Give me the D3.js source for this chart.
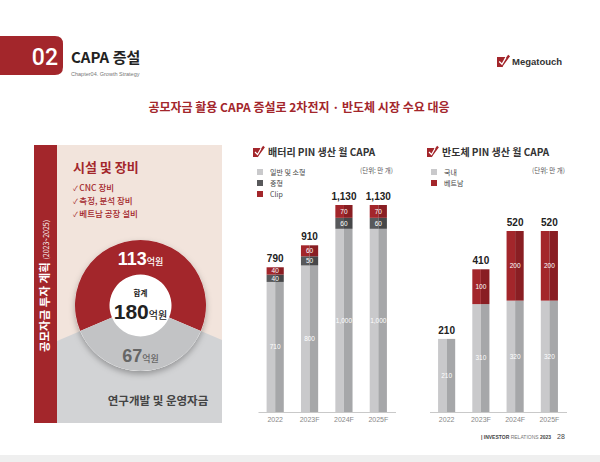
<!DOCTYPE html>
<html>
<head>
<meta charset="utf-8">
<title>CAPA 증설</title>
<script src="https://cdn.jsdelivr.net/npm/d3@7"></script>
<style>
  html, body { margin: 0; padding: 0; background: #fff; }
  svg { display: block; font-family: "Liberation Sans", "Noto Sans CJK KR", sans-serif; }
</style>
</head>
<body>
<div id="chart"></div>
<script>
// fund allocation (억원)
var fundLabels = ['시설 및 장비', '연구개발 및 운영자금'];
var fundValues = [113, 67];
var facilityItems = ['CNC 장비', '측정, 분석 장비', '베트남 공장 설비'];

var years = ['2022', '2023F', '2024F', '2025F'];

// battery PIN monthly CAPA (만 개)
var batSeries = ['일반 및 소형', '중형', 'Clip'];
var batGeneral = [710, 800, 1000, 1000];
var batMid = [40, 50, 60, 60];
var batClip = [40, 60, 70, 70];

// semiconductor PIN monthly CAPA (만 개)
var semiSeries = ['국내', '베트남'];
var semiDomestic = [210, 310, 320, 320];
var semiVietnam = [0, 100, 200, 200];

var width = 600, height = 462;
var red = '#a3262b', redDark = '#891e23';
var kr = '"Noto Sans CJK KR", sans-serif';

var svg = d3.select('#chart').append('svg')
    .attr('width', width).attr('height', height);

var defs = svg.append('defs');
var shadow = defs.append('filter').attr('id', 'shadow')
    .attr('x', '-30%').attr('y', '-30%').attr('width', '160%').attr('height', '160%');
shadow.append('feDropShadow').attr('dx', 0).attr('dy', 3).attr('stdDeviation', 3)
    .attr('flood-color', '#000').attr('flood-opacity', 0.3);
defs.append('clipPath').attr('id', 'panelClip')
  .append('rect').attr('x', 57).attr('y', 145).attr('width', 165).attr('height', 278);

// ---------- header ----------
svg.append('path')
    .attr('d', 'M0,36 H55 Q63,36 63,44 V67 Q63,75 55,75 H0 Z')
    .attr('fill', red);
svg.append('text').attr('x', 58).attr('y', 65).attr('text-anchor', 'end')
    .attr('fill', '#fff').style('font-size', '23px').style('font-weight', 500)
    .style('font-family', 'Roboto, sans-serif')
    .text('02');
svg.append('text').attr('x', 71).attr('y', 63)
    .attr('fill', '#222').style('font-size', '15px').style('font-weight', 700)
    .style('font-family', kr)
    .text('CAPA 증설');
svg.append('text').attr('x', 71).attr('y', 76)
    .attr('fill', '#777').style('font-size', '5.5px')
    .text('Chapter04. Growth Strategy');

// logo
function checkIcon(g, x, y, s) {
  g.append('path')
      .attr('d', 'M' + x + ',' + (y + s * 0.1) + ' H' + (x + s * 0.75) + ' L' + (x + s * 0.5) + ',' + (y + s) +
           ' H' + x + ' Z')
      .attr('fill', red);
  g.append('path')
      .attr('d', 'M' + (x + s * 0.15) + ',' + (y + s * 0.5) +
           ' L' + (x + s * 0.45) + ',' + (y + s * 0.85) +
           ' L' + (x + s * 1.1) + ',' + (y - s * 0.05))
      .attr('fill', 'none').attr('stroke', red).attr('stroke-width', s * 0.22);
  g.append('path')
      .attr('d', 'M' + (x + s * 0.2) + ',' + (y + s * 0.5) +
           ' L' + (x + s * 0.45) + ',' + (y + s * 0.75) +
           ' L' + (x + s * 0.8) + ',' + (y + s * 0.15))
      .attr('fill', 'none').attr('stroke', '#fff').attr('stroke-width', s * 0.12);
}
checkIcon(svg, 497, 56, 11);
svg.append('text').attr('x', 512).attr('y', 65)
    .attr('fill', '#333').style('font-size', '9.5px').style('font-weight', 700)
    .text('Megatouch');

svg.append('text').attr('x', 299).attr('y', 112).attr('text-anchor', 'middle')
    .attr('fill', red).style('font-size', '12px').style('font-weight', 700)
    .style('font-family', kr)
    .text('공모자금 활용 CAPA 증설로 2차전지 · 반도체 시장 수요 대응');

// ---------- left panel: donut ----------
svg.append('rect').attr('x', 34).attr('y', 145).attr('width', 23).attr('height', 278).attr('fill', red);
svg.append('rect').attr('x', 57).attr('y', 145).attr('width', 165).attr('height', 278).attr('fill', '#f2e4dc');

var vt = svg.append('text')
    .attr('transform', 'translate(49,286) rotate(-90)')
    .attr('text-anchor', 'middle').attr('fill', '#fff').style('font-family', kr);
vt.append('tspan').style('font-size', '11.5px').style('font-weight', 700).text('공모자금 투자 계획 ');
vt.append('tspan').style('font-size', '7px').text('(2023~2025)');

var cx = 140.5, cy = 305.5;
var total = d3.sum(fundValues);
var greyAngle = fundValues[1] / total * 2 * Math.PI;
var start = Math.PI + greyAngle / 2;
var pie = d3.pie().sort(null).startAngle(start).endAngle(start + 2 * Math.PI);
var slices = pie(fundValues);

var bgArc = d3.arc().innerRadius(0).outerRadius(220);
svg.append('g').attr('clip-path', 'url(#panelClip)')
  .append('path')
    .attr('transform', 'translate(' + cx + ',' + cy + ')')
    .attr('d', bgArc(slices[1]))
    .attr('fill', '#d2d3d5');

var ringArc = d3.arc().innerRadius(31).outerRadius(65.5);
var donut = svg.append('g').attr('transform', 'translate(' + cx + ',' + cy + ')');
donut.append('circle').attr('r', 65.5).attr('fill', '#fff').attr('filter', 'url(#shadow)');
donut.selectAll('path.ring').data(slices).enter().append('path')
    .attr('class', 'ring')
    .attr('d', ringArc)
    .attr('fill', function(d, i) { return i === 0 ? red : '#c2c3c5'; });

function amount(g, x, y, v, big, small, color) {
  var t = g.append('text').attr('x', x).attr('y', y).attr('text-anchor', 'middle').attr('fill', color);
  t.append('tspan').style('font-size', big + 'px').style('font-weight', 700).text(v);
  t.append('tspan').style('font-size', small + 'px').style('font-weight', 500)
      .style('font-family', kr).text('억원');
}
amount(svg, cx, 265, fundValues[0], 18, 9, '#fff');
amount(svg, cx, 362, fundValues[1], 18, 9, '#666');
svg.append('text').attr('x', cx).attr('y', 296).attr('text-anchor', 'middle')
    .attr('fill', '#222').style('font-size', '7.5px').style('font-weight', 700)
    .style('font-family', kr).text('합계');
amount(svg, cx, 319, total, 21, 10, '#222');

svg.append('text').attr('x', 73).attr('y', 172)
    .attr('fill', red).style('font-size', '13px').style('font-weight', 700)
    .style('font-family', kr)
    .text(fundLabels[0]);
var items = svg.selectAll('text.item').data(facilityItems).enter().append('text')
    .attr('class', 'item')
    .attr('x', 73).attr('y', function(d, i) { return 191 + i * 13; })
    .attr('fill', red).style('font-family', kr);
items.append('tspan').style('font-size', '7px').text('✓ ');
items.append('tspan').style('font-size', '8.5px').style('font-weight', 500).text(function(d) { return d; });
svg.append('text').attr('x', 158).attr('y', 405).attr('text-anchor', 'middle')
    .attr('fill', '#444').style('font-size', '11.5px').style('font-weight', 700)
    .style('font-family', kr)
    .text(fundLabels[1]);

// ---------- stacked bar charts ----------
var baseY = 412;

function drawChart(opt) {
  var g = svg.append('g');
  checkIcon(g, opt.titleX - 15, 147, 10);
  g.append('text').attr('x', opt.titleX).attr('y', 156)
      .attr('fill', '#333').style('font-size', '10px').style('font-weight', 700)
      .style('font-family', kr)
      .text(opt.title);
  g.append('text').attr('x', opt.unitX).attr('y', 173).attr('text-anchor', 'end')
      .attr('fill', '#555').style('font-size', '6.5px').style('font-family', kr).text('(단위: 만 개)');

  var leg = g.selectAll('g.leg').data(opt.series).enter().append('g')
      .attr('transform', function(d, i) { return 'translate(' + opt.legX + ',' + (172 + i * 11) + ')'; });
  leg.append('rect').attr('x', 0).attr('y', -3).attr('width', 6).attr('height', 6)
      .attr('fill', function(d, i) { return opt.colors[i][0]; });
  leg.append('text').attr('x', 13).attr('y', 2.5)
      .attr('fill', '#444').style('font-size', '7px').style('font-family', kr)
      .text(function(d) { return d; });

  var x = d3.scaleBand().domain(years).range(opt.range).paddingInner(0.5).paddingOuter(0.25);
  var y = d3.scaleLinear().domain([0, opt.max]).range([baseY, opt.top]);

  var rows = years.map(function(yr, i) {
    var o = { year: yr };
    opt.keys.forEach(function(k, j) { o[k] = opt.values[j][i]; });
    return o;
  });
  var stacked = d3.stack().keys(opt.keys)(rows);
  var bw = x.bandwidth();

  var layer = g.selectAll('g.layer').data(stacked).enter().append('g').attr('class', 'layer');
  layer.each(function(s, si) {
    var sel = d3.select(this).selectAll('g.seg').data(s.filter(function(d) { return d[1] > d[0]; }))
        .enter().append('g');
    sel.append('rect')
        .attr('x', function(d) { return x(d.data.year); })
        .attr('y', function(d) { return y(d[1]); })
        .attr('width', bw / 2)
        .attr('height', function(d) { return y(d[0]) - y(d[1]); })
        .attr('fill', opt.colors[si][0]);
    sel.append('rect')
        .attr('x', function(d) { return x(d.data.year) + bw / 2; })
        .attr('y', function(d) { return y(d[1]); })
        .attr('width', bw / 2)
        .attr('height', function(d) { return y(d[0]) - y(d[1]); })
        .attr('fill', opt.colors[si][1]);
    sel.append('text')
        .attr('x', function(d) { return x(d.data.year) + bw / 2; })
        .attr('y', function(d) { return (y(d[0]) + y(d[1])) / 2 + 2.3; })
        .attr('text-anchor', 'middle').attr('fill', '#fff')
        .style('font-size', '6.5px')
        .text(function(d) { return d3.format(',')(d[1] - d[0]); });
  });

  var totals = rows.map(function(r) { return d3.sum(opt.keys, function(k) { return r[k]; }); });
  g.selectAll('text.total').data(years).enter().append('text')
      .attr('x', function(d) { return x(d) + bw / 2; })
      .attr('y', function(d, i) { return y(totals[i]) - 5; })
      .attr('text-anchor', 'middle').attr('fill', '#222')
      .style('font-size', '10px').style('font-weight', 700)
      .text(function(d, i) { return d3.format(',')(totals[i]); });

  var axis = g.append('g').attr('transform', 'translate(0,' + baseY + ')')
      .call(d3.axisBottom(x).tickSize(0).tickPadding(5));
  axis.select('.domain').attr('stroke', '#bbb').attr('stroke-width', 0.8);
  axis.selectAll('text').attr('fill', '#888').style('font-size', '7px')
      .style('font-family', '"Liberation Sans", sans-serif');
}

var greyC = ['#c9c9cb', '#a6a7a9'];
drawChart({
  title: '배터리 PIN 생산 월 CAPA', titleX: 268, unitX: 393, legX: 257,
  series: batSeries, keys: ['general', 'mid', 'clip'],
  values: [batGeneral, batMid, batClip],
  colors: [greyC, ['#58595b', '#464749'], [red, redDark]],
  range: [258, 395.5], max: 1130, top: 205
});
drawChart({
  title: '반도체 PIN 생산 월 CAPA', titleX: 442, unitX: 565, legX: 431,
  series: semiSeries, keys: ['domestic', 'vietnam'],
  values: [semiDomestic, semiVietnam],
  colors: [greyC, [red, redDark]],
  range: [429.5, 566.5], max: 520, top: 231
});

// ---------- footer ----------
var ft = svg.append('text').attr('x', 481).attr('y', 439).attr('fill', '#444').style('font-size', '5px');
ft.append('tspan').style('font-weight', 700).text('| INVESTOR ');
ft.append('tspan').attr('fill', '#777').text('RELATIONS ');
ft.append('tspan').style('font-weight', 700).text('2023');
svg.append('text').attr('x', 557).attr('y', 439).attr('fill', '#444').style('font-size', '7px').text('28');
svg.append('rect').attr('x', 0).attr('y', 455).attr('width', width).attr('height', 7).attr('fill', '#efefef');
</script>
</body>
</html>
